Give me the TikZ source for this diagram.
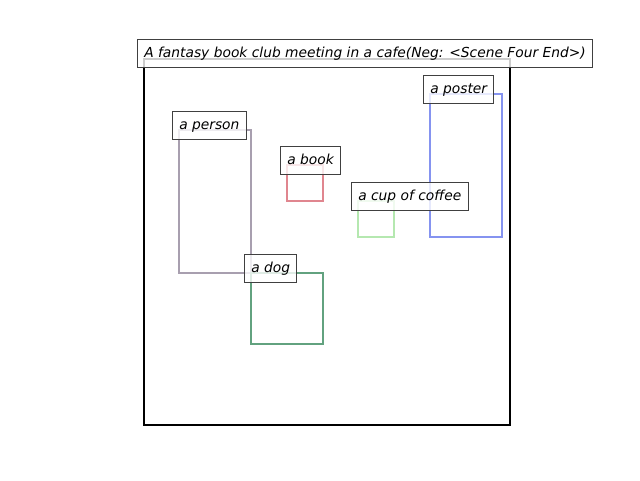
\documentclass[tikz,border=0pt]{standalone}
\usepackage{fontspec}
\setmainfont{DejaVu Sans}
\definecolor{cperson}{HTML}{A89FAF}
\definecolor{cbook}{HTML}{E0868F}
\definecolor{ccoffee}{HTML}{B5E8B0}
\definecolor{cposter}{HTML}{8593F0}
\definecolor{cdog}{HTML}{62A27F}
\definecolor{cedge}{HTML}{404040}
\begin{document}
\begin{tikzpicture}[x=1pt,y=-1pt,
  objbox/.style={line width=2pt},
  lbl/.style={draw=cedge,line width=1pt,fill=white,fill opacity=0.8,text opacity=1,
    font=\fontsize{13.8}{16}\selectfont\itshape,inner xsep=6.8pt,inner ysep=0pt,
    minimum height=28pt,anchor=south west,text depth=3.2pt,text height=11.8pt}]
\useasboundingbox (0,0) rectangle (640,480);
% main frame
\draw[line width=2pt,black] (144,59) rectangle (510,425);
% objects
\draw[objbox,cperson] (179,130) rectangle (251,273);
\draw[objbox,cbook] (287,165) rectangle (323,201);
\draw[objbox,ccoffee] (358,201) rectangle (394,237);
\draw[objbox,cposter] (430,94) rectangle (502,237);
\draw[objbox,cdog] (251,273) rectangle (323,344);
% labels
\node[lbl] (title) at (137,68) {A fantasy book club meeting in a cafe(Neg: <Scene Four End>)};
\node[lbl] (lperson) at (172,140) {a person};
\node[lbl] (lbook) at (280,175) {a book};
\node[lbl] (lcoffee) at (351,211) {a cup of coffee};
\node[lbl] (lposter) at (423,104) {a poster};
\node[lbl] (ldog) at (244,283) {a dog};
\end{tikzpicture}
\end{document}
